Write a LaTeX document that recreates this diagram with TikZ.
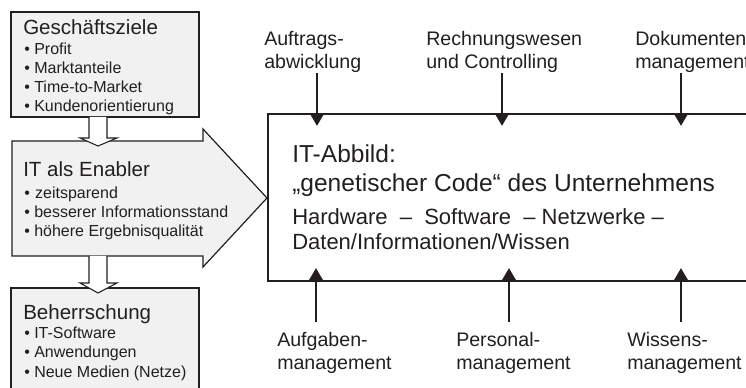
\documentclass[tikz,border=0pt]{standalone}
\usepackage{fontspec}
\setmainfont{Liberation Sans}
\usetikzlibrary{arrows.meta}
\definecolor{boxfill}{RGB}{240,241,240}
\definecolor{ink}{RGB}{35,31,32}

\begin{document}
\begin{tikzpicture}[x=0.75pt,y=0.75pt,yscale=-1,xscale=1,
  zielbox/.style={draw=ink, line width=1.9pt, fill=boxfill},
  enabler/.style={draw=ink, line width=0.9pt, fill=boxfill},
  hohlpfeil/.style={draw=ink, line width=0.8pt, fill=white},
  pfeil/.style={draw=ink, line width=2.2pt, -{Triangle[width=9.75pt,length=9pt]}},
  titel/.style={anchor=base west, inner sep=0pt, text=ink, font=\fontsize{15.4}{18}\selectfont},
  liste/.style={anchor=base west, inner sep=0pt, text=ink, align=left, font=\fontsize{12}{14.25}\selectfont},
  beschr/.style={anchor=base west, inner sep=0pt, text=ink, align=left, font=\fontsize{14.7}{17.25}\selectfont}]
\useasboundingbox (0,0) rectangle (746,388);

% Geschaeftsziele
\draw [zielbox] (11,12) rectangle (199,117) ;
\node [titel] (ziele) at (23,35) {Geschäftsziele};
\node [liste] (zieleliste) at (24,112) {• Profit\\• Marktanteile\\• Time-to-Market\\• Kundenorientierung};

% IT als Enabler (grosser Pfeil)
\draw [enabler] (12,141) -- (203,141) -- (203,129) -- (267,198) -- (203,267) -- (203,256) -- (12,256) -- cycle ;
\node [titel] (enab) at (23,177) {IT als Enabler};
\node [liste] (enabliste) at (24,237) {•\,\,zeitsparend\\• besserer Informationsstand\\• höhere Ergebnisqualität};

% Beherrschung
\draw [zielbox] (11,288) rectangle (199,400) ;
\node [titel] (beh) at (23,320) {Beherrschung};
\node [liste] (behliste) at (24,377) {• IT-Software\\• Anwendungen\\• Neue Medien (Netze)};

% Hohlpfeile
\draw [hohlpfeil] (89,117) -- (89,138) -- (80,138) -- (98,146) -- (117,138) -- (107,138) -- (107,117) ;
\draw [hohlpfeil] (89,256) -- (89,283) -- (80,283) -- (98,293) -- (117,283) -- (107,283) -- (107,256) ;

% IT-Abbild
\draw [draw=ink, line width=1pt] (268,114) rectangle (770,281) ;
\node [anchor=base west, inner sep=0pt, text=ink, font=\fontsize{18.4}{21.75}\selectfont] (abbild) at (292,163) {IT-Abbild:};
\node [anchor=base west, inner sep=0pt, text=ink, font=\fontsize{18.4}{21.75}\selectfont] (code) at (292,192) {„genetischer Code“ des Unternehmens};
\node [anchor=base west, inner sep=0pt, text=ink, align=left, font=\fontsize{16.5}{18.75}\selectfont] (hw) at (292,250) {Hardware\ \ –\ \ Software\ \ – Netzwerke –\\Daten/Informationen/Wissen};

% Beschriftungen oben
\node [beschr] (auftrag) at (264,69) {Auftrags-\\abwicklung};
\node [beschr] (rechnung) at (426,69) {Rechnungswesen\\und Controlling};
\node [beschr] (dokument) at (635,69) {Dokumenten-\\management};

% Beschriftungen unten
\node [beschr] (aufgaben) at (277,369) {Aufgaben-\\management};
\node [beschr] (personal) at (456,369) {Personal-\\management};
\node [beschr] (wissen) at (627,369) {Wissens-\\management};

% Pfeilspitzen
\coordinate (o1) at (317,126);
\coordinate (o2) at (502,126);
\coordinate (o3) at (681,126);
\coordinate (u1) at (316,268);
\coordinate (u2) at (509,268);
\coordinate (u3) at (681,268);

\draw [pfeil] (auftrag.south -| o1) -- (o1) ;
\draw [pfeil] (rechnung.south -| o2) -- (o2) ;
\draw [pfeil] (dokument.south -| o3) -- (o3) ;
\draw [pfeil] ([yshift=-7pt]aufgaben.north -| u1) -- (u1) ;
\draw [pfeil] ([yshift=-7pt]personal.north -| u2) -- (u2) ;
\draw [pfeil] ([yshift=-7pt]wissen.north -| u3) -- (u3) ;

\end{tikzpicture}
\end{document}
